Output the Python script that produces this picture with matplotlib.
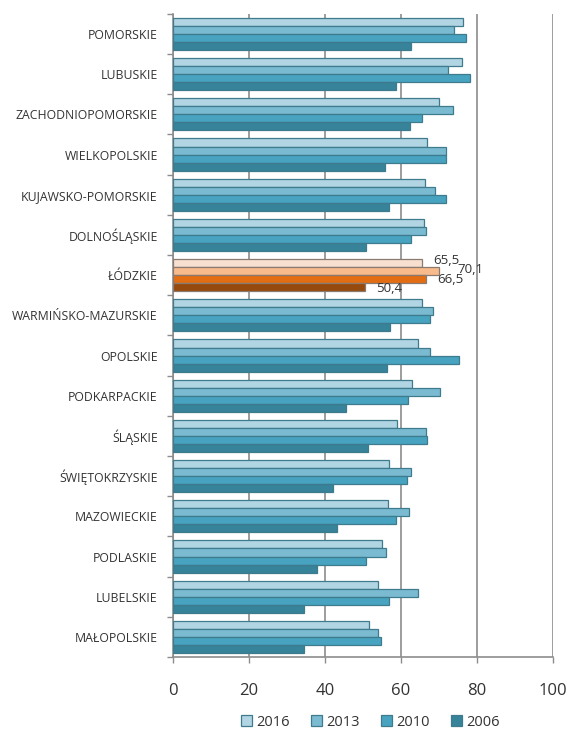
import numpy as np
import matplotlib
matplotlib.use("Agg")
import matplotlib.pyplot as plt
from matplotlib.patches import Patch

regions = ["POMORSKIE", "LUBUSKIE", "ZACHODNIOPOMORSKIE", "WIELKOPOLSKIE",
           "KUJAWSKO-POMORSKIE", "DOLNOŚLĄSKIE", "ŁÓDZKIE", "WARMIŃSKO-MAZURSKIE",
           "OPOLSKIE", "PODKARPACKIE", "ŚLĄSKIE", "ŚWIĘTOKRZYSKIE",
           "MAZOWIECKIE", "PODLASKIE", "LUBELSKIE", "MAŁOPOLSKIE"]
years = ["2016", "2013", "2010", "2006"]
v2016 = [76.4, 76.1, 70.0, 66.9, 66.3, 66.1, 65.5, 65.4, 64.6, 62.9, 58.9, 56.8, 56.7, 55.0, 53.9, 51.6]
v2013 = [73.9, 72.4, 73.6, 71.8, 68.9, 66.7, 70.1, 68.5, 67.6, 70.2, 66.5, 62.5, 62.2, 56.0, 64.6, 53.9]
v2010 = [77.0, 78.2, 65.5, 71.8, 71.9, 62.6, 66.5, 67.5, 75.3, 61.9, 66.8, 61.5, 58.8, 50.8, 56.9, 54.8]
v2006 = [62.5, 58.8, 62.3, 55.7, 56.9, 50.7, 50.4, 57.2, 56.2, 45.4, 51.4, 42.1, 43.2, 37.8, 34.6, 34.6]
series = [v2016, v2013, v2010, v2006]
highlight = "ŁÓDZKIE"

blues = ["#b2d5e3", "#7bbbd1", "#47a3c0", "#36839a"]
oranges = ["#f7e0d0", "#f8bb8c", "#e26d12", "#974a0e"]
txt = "#333333"

fig = plt.figure(figsize=(5.68, 7.31), dpi=100)
ax = fig.add_axes([0.3046, 0.1012, 0.6690, 0.8798])

n = len(regions)
ypos = np.arange(n)[::-1]
h = 0.2
offsets = [0.3, 0.1, -0.1, -0.3]
hi = regions.index(highlight)

for k, vals in enumerate(series):
    cols = [oranges[k] if i == hi else blues[k] for i in range(n)]
    edges = ["#8a7a70" if i == hi else "#3e7b8d" for i in range(n)]
    ax.barh(ypos + offsets[k], vals, height=h, color=cols, edgecolor=edges,
            linewidth=0.9, zorder=3)
    # data label for the highlighted region only
    lbl = f"{vals[hi]:.1f}".replace(".", ",")
    dx = 13 if k == 1 else 8
    ax.annotate(lbl, (vals[hi], ypos[hi] + offsets[k]), xytext=(dx, 2 - k),
                textcoords="offset points", ha="left", va="center",
                fontsize=9.5, family="Open Sans", color=txt, zorder=4)

ax.set_xlim(0, 100)
ax.set_ylim(-0.5, n - 0.5)
ax.set_xticks([0, 20, 40, 60, 80, 100])
ax.set_yticks(ypos)
ax.set_yticklabels(regions, family="Open Sans", fontsize=8.8, color=txt)
ax.set_yticks(np.arange(n + 1) - 0.5, minor=True)
ax.tick_params(axis="y", which="major", length=0, pad=11)
ax.tick_params(axis="y", which="minor", length=4, color="#8c8c8c", width=1)
ax.tick_params(axis="x", length=4, color="#8c8c8c", width=1, pad=15,
               labelsize=12, labelcolor=txt)
for t in ax.get_xticklabels():
    t.set_family("Open Sans")

ax.grid(axis="x", color="#8c8c8c", linewidth=1.2, zorder=0)
ax.set_axisbelow(True)
for s in ["top", "right"]:
    ax.spines[s].set_visible(False)
for s in ["left", "bottom"]:
    ax.spines[s].set_color("#8c8c8c")
    ax.spines[s].set_linewidth(1.2)

handles = [Patch(facecolor=blues[k], edgecolor="#3e7b8d", linewidth=0.9, label=years[k])
           for k in range(4)]
fig.legend(handles=handles, loc="center", bbox_to_anchor=(0.652, 0.012),
           ncol=4, frameon=False, prop={"family": "Open Sans", "size": 10.5},
           handlelength=0.8, handleheight=0.8, handletextpad=0.3, columnspacing=1.4,
           labelcolor=txt)

fig.savefig("out.png", dpi=100)
